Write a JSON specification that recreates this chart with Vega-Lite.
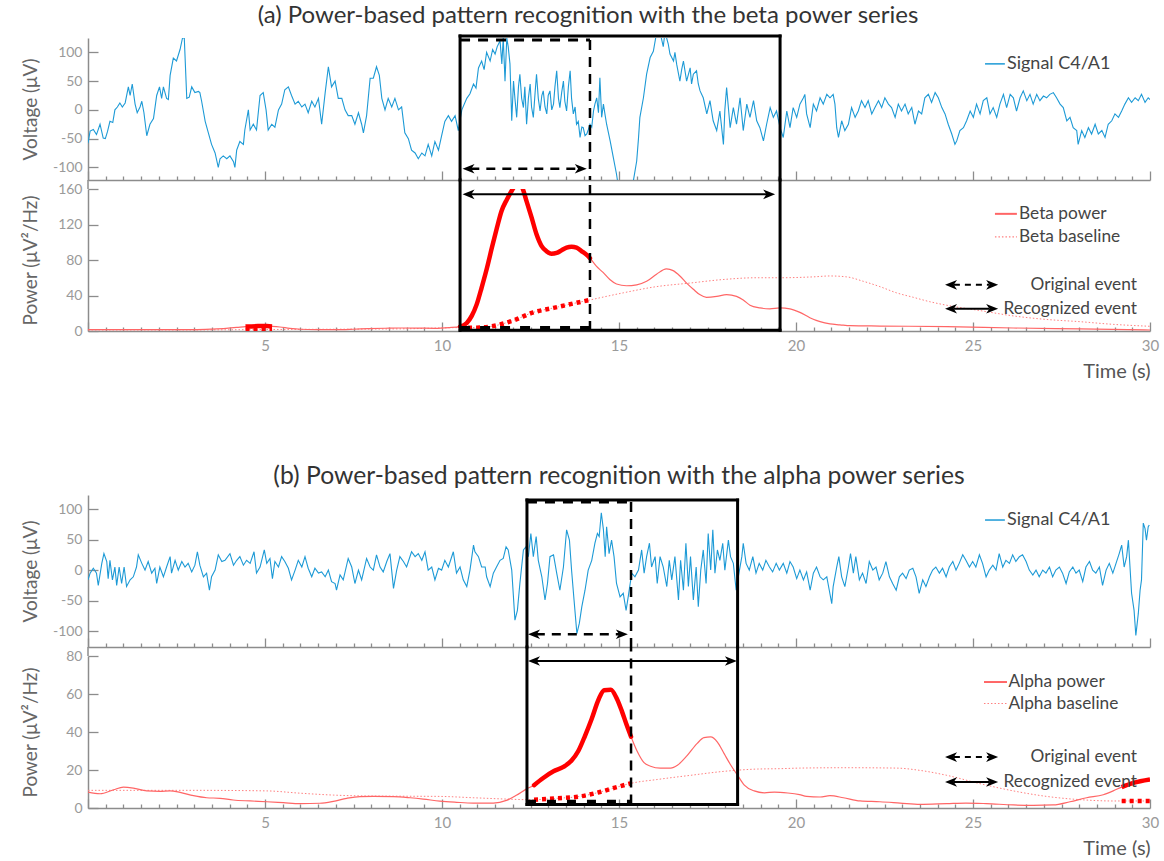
{
  "$schema": "https://vega.github.io/schema/vega-lite/v6.json",
  "background": "white",
  "padding": {"left": 20, "top": 3, "right": 4, "bottom": 4},
  "config": {
    "view": {"stroke": null},
    "font": "Lato",
    "axis": {"grid": false, "domainColor": "#8c8c8c", "domainWidth": 1.5, "tickColor": "#8c8c8c", "tickWidth": 1.3, "labelColor": "#9a9a9a", "labelFontSize": 14, "labelFont": "Lato", "titleFont": "Lato", "titleColor": "#666666", "titleFontWeight": "normal", "titleFontSize": 19},
    "title": {"font": "Lato", "fontSize": 24, "fontWeight": "normal", "color": "#333333"},
    "text": {"font": "Lato"}
  },
  "datasets": {
    "sigA": [{"t":0,"v":-58},{"t":0.06,"v":-37},{"t":0.15,"v":-34},{"t":0.24,"v":-43},{"t":0.34,"v":-25},{"t":0.43,"v":-49},{"t":0.49,"v":-50},{"t":0.55,"v":-38},{"t":0.62,"v":-20},{"t":0.7,"v":-22},{"t":0.76,"v":0},{"t":0.83,"v":5},{"t":0.9,"v":12},{"t":0.97,"v":5},{"t":1.05,"v":12},{"t":1.14,"v":40},{"t":1.19,"v":25},{"t":1.25,"v":45},{"t":1.33,"v":10},{"t":1.39,"v":-5},{"t":1.47,"v":5},{"t":1.52,"v":15},{"t":1.58,"v":-5},{"t":1.66,"v":-45},{"t":1.75,"v":-25},{"t":1.85,"v":-15},{"t":1.94,"v":25},{"t":2.02,"v":40},{"t":2.08,"v":20},{"t":2.13,"v":40},{"t":2.22,"v":20},{"t":2.27,"v":18},{"t":2.32,"v":60},{"t":2.41,"v":90},{"t":2.5,"v":85},{"t":2.6,"v":105},{"t":2.67,"v":125},{"t":2.72,"v":125},{"t":2.79,"v":20},{"t":2.86,"v":22},{"t":2.93,"v":40},{"t":3.02,"v":30},{"t":3.12,"v":32},{"t":3.16,"v":30},{"t":3.21,"v":15},{"t":3.31,"v":-20},{"t":3.4,"v":-40},{"t":3.49,"v":-60},{"t":3.59,"v":-75},{"t":3.68,"v":-100},{"t":3.73,"v":-85},{"t":3.82,"v":-80},{"t":3.92,"v":-85},{"t":4.01,"v":-80},{"t":4.11,"v":-90},{"t":4.15,"v":-100},{"t":4.2,"v":-70},{"t":4.29,"v":-55},{"t":4.39,"v":-60},{"t":4.43,"v":-35},{"t":4.53,"v":0},{"t":4.58,"v":-35},{"t":4.67,"v":-25},{"t":4.76,"v":-35},{"t":4.86,"v":25},{"t":4.95,"v":30},{"t":5.03,"v":0},{"t":5.09,"v":-35},{"t":5.19,"v":-25},{"t":5.28,"v":-30},{"t":5.38,"v":0},{"t":5.47,"v":10},{"t":5.56,"v":35},{"t":5.66,"v":40},{"t":5.75,"v":25},{"t":5.85,"v":10},{"t":5.94,"v":15},{"t":6.04,"v":5},{"t":6.13,"v":10},{"t":6.22,"v":-5},{"t":6.32,"v":15},{"t":6.41,"v":5},{"t":6.51,"v":20},{"t":6.6,"v":-25},{"t":6.7,"v":30},{"t":6.79,"v":75},{"t":6.88,"v":40},{"t":6.98,"v":50},{"t":7.07,"v":20},{"t":7.17,"v":20},{"t":7.26,"v":0},{"t":7.35,"v":-10},{"t":7.45,"v":-10},{"t":7.54,"v":-25},{"t":7.64,"v":-5},{"t":7.73,"v":-25},{"t":7.78,"v":-40},{"t":7.87,"v":-10},{"t":7.97,"v":55},{"t":8.06,"v":55},{"t":8.15,"v":75},{"t":8.23,"v":60},{"t":8.3,"v":20},{"t":8.39,"v":0},{"t":8.48,"v":20},{"t":8.58,"v":5},{"t":8.67,"v":20},{"t":8.77,"v":0},{"t":8.86,"v":5},{"t":8.95,"v":-40},{"t":9.05,"v":-50},{"t":9.14,"v":-70},{"t":9.24,"v":-75},{"t":9.33,"v":-85},{"t":9.43,"v":-75},{"t":9.52,"v":-80},{"t":9.61,"v":-60},{"t":9.71,"v":-80},{"t":9.8,"v":-55},{"t":9.9,"v":-70},{"t":9.99,"v":-45},{"t":10.08,"v":-20},{"t":10.18,"v":-10},{"t":10.27,"v":-20},{"t":10.37,"v":-10},{"t":10.46,"v":-36},{"t":10.56,"v":0},{"t":10.7,"v":20},{"t":10.79,"v":28},{"t":10.89,"v":45},{"t":10.96,"v":38},{"t":11.03,"v":73},{"t":11.12,"v":85},{"t":11.19,"v":70},{"t":11.26,"v":100},{"t":11.36,"v":85},{"t":11.43,"v":105},{"t":11.5,"v":97},{"t":11.56,"v":110},{"t":11.64,"v":120},{"t":11.69,"v":80},{"t":11.73,"v":125},{"t":11.78,"v":50},{"t":11.83,"v":125},{"t":11.87,"v":110},{"t":11.92,"v":80},{"t":11.97,"v":-19},{"t":12.02,"v":50},{"t":12.06,"v":20},{"t":12.11,"v":-13},{"t":12.16,"v":40},{"t":12.2,"v":62},{"t":12.25,"v":20},{"t":12.3,"v":4},{"t":12.34,"v":40},{"t":12.39,"v":-25},{"t":12.44,"v":20},{"t":12.49,"v":45},{"t":12.53,"v":5},{"t":12.58,"v":-13},{"t":12.63,"v":30},{"t":12.67,"v":62},{"t":12.72,"v":20},{"t":12.77,"v":-2},{"t":12.82,"v":25},{"t":12.86,"v":33},{"t":12.91,"v":5},{"t":12.96,"v":-7},{"t":13,"v":25},{"t":13.05,"v":33},{"t":13.1,"v":0},{"t":13.15,"v":10},{"t":13.19,"v":40},{"t":13.24,"v":68},{"t":13.29,"v":20},{"t":13.33,"v":4},{"t":13.38,"v":30},{"t":13.43,"v":50},{"t":13.47,"v":15},{"t":13.52,"v":-2},{"t":13.57,"v":40},{"t":13.62,"v":68},{"t":13.66,"v":20},{"t":13.71,"v":-7},{"t":13.76,"v":5},{"t":13.8,"v":-25},{"t":13.85,"v":-20},{"t":13.9,"v":-48},{"t":13.95,"v":-30},{"t":13.99,"v":-31},{"t":14.04,"v":-45},{"t":14.09,"v":-42},{"t":14.13,"v":-35},{"t":14.18,"v":-25},{"t":14.23,"v":-30},{"t":14.28,"v":-2},{"t":14.32,"v":10},{"t":14.37,"v":21},{"t":14.42,"v":-5},{"t":14.46,"v":56},{"t":14.51,"v":-13},{"t":14.56,"v":10},{"t":14.61,"v":-10},{"t":14.65,"v":-25},{"t":14.75,"v":-54},{"t":14.84,"v":-83},{"t":14.93,"v":-112},{"t":15,"v":-140},{"t":15.36,"v":-140},{"t":15.5,"v":-89},{"t":15.55,"v":-50},{"t":15.59,"v":-13},{"t":15.69,"v":21},{"t":15.78,"v":62},{"t":15.88,"v":91},{"t":15.97,"v":102},{"t":16.05,"v":130},{"t":16.16,"v":135},{"t":16.25,"v":110},{"t":16.3,"v":135},{"t":16.39,"v":115},{"t":16.44,"v":97},{"t":16.54,"v":85},{"t":16.58,"v":100},{"t":16.63,"v":79},{"t":16.72,"v":50},{"t":16.77,"v":70},{"t":16.82,"v":85},{"t":16.91,"v":50},{"t":17.01,"v":73},{"t":17.05,"v":45},{"t":17.1,"v":62},{"t":17.19,"v":68},{"t":17.24,"v":45},{"t":17.29,"v":33},{"t":17.38,"v":21},{"t":17.48,"v":-7},{"t":17.57,"v":16},{"t":17.66,"v":-19},{"t":17.76,"v":-36},{"t":17.85,"v":-2},{"t":17.95,"v":-60},{"t":17.99,"v":0},{"t":18.04,"v":39},{"t":18.14,"v":-31},{"t":18.23,"v":4},{"t":18.32,"v":-25},{"t":18.42,"v":21},{"t":18.51,"v":-36},{"t":18.61,"v":10},{"t":18.7,"v":-13},{"t":18.8,"v":16},{"t":18.89,"v":-19},{"t":18.98,"v":-31},{"t":19.08,"v":-54},{"t":19.17,"v":-25},{"t":19.27,"v":4},{"t":19.36,"v":-13},{"t":19.45,"v":-2},{"t":19.55,"v":-31},{"t":19.64,"v":-48},{"t":19.74,"v":-2},{"t":19.83,"v":-31},{"t":19.92,"v":4},{"t":20.02,"v":-13},{"t":20.11,"v":10},{"t":20.21,"v":21},{"t":20.25,"v":27},{"t":20.3,"v":-7},{"t":20.4,"v":-31},{"t":20.49,"v":10},{"t":20.58,"v":-2},{"t":20.68,"v":21},{"t":20.77,"v":10},{"t":20.87,"v":27},{"t":20.96,"v":21},{"t":21.05,"v":27},{"t":21.1,"v":10},{"t":21.15,"v":-31},{"t":21.2,"v":-48},{"t":21.29,"v":-19},{"t":21.38,"v":-36},{"t":21.48,"v":-25},{"t":21.57,"v":4},{"t":21.67,"v":-13},{"t":21.76,"v":-2},{"t":21.85,"v":16},{"t":21.95,"v":4},{"t":22.04,"v":16},{"t":22.14,"v":-7},{"t":22.23,"v":4},{"t":22.33,"v":16},{"t":22.42,"v":4},{"t":22.51,"v":21},{"t":22.61,"v":10},{"t":22.7,"v":4},{"t":22.8,"v":-13},{"t":22.89,"v":10},{"t":22.98,"v":-2},{"t":23.08,"v":10},{"t":23.17,"v":-7},{"t":23.27,"v":4},{"t":23.36,"v":-25},{"t":23.46,"v":-2},{"t":23.55,"v":-7},{"t":23.64,"v":21},{"t":23.74,"v":27},{"t":23.83,"v":13},{"t":23.93,"v":30},{"t":24.02,"v":21},{"t":24.12,"v":4},{"t":24.21,"v":-7},{"t":24.3,"v":-25},{"t":24.4,"v":-42},{"t":24.49,"v":-60},{"t":24.54,"v":-54},{"t":24.63,"v":-36},{"t":24.73,"v":-31},{"t":24.82,"v":-19},{"t":24.92,"v":-2},{"t":25.01,"v":-13},{"t":25.1,"v":10},{"t":25.2,"v":-7},{"t":25.29,"v":16},{"t":25.39,"v":21},{"t":25.48,"v":-7},{"t":25.57,"v":4},{"t":25.67,"v":-13},{"t":25.76,"v":10},{"t":25.86,"v":27},{"t":25.95,"v":4},{"t":26.05,"v":27},{"t":26.14,"v":21},{"t":26.23,"v":-2},{"t":26.33,"v":21},{"t":26.42,"v":33},{"t":26.52,"v":16},{"t":26.61,"v":27},{"t":26.7,"v":10},{"t":26.8,"v":27},{"t":26.89,"v":16},{"t":26.99,"v":24},{"t":27.08,"v":21},{"t":27.17,"v":27},{"t":27.27,"v":30},{"t":27.36,"v":21},{"t":27.46,"v":10},{"t":27.55,"v":4},{"t":27.65,"v":-19},{"t":27.74,"v":-13},{"t":27.83,"v":-31},{"t":27.93,"v":-36},{"t":27.97,"v":-60},{"t":28.07,"v":-36},{"t":28.16,"v":-48},{"t":28.26,"v":-31},{"t":28.35,"v":-42},{"t":28.45,"v":-25},{"t":28.54,"v":-42},{"t":28.64,"v":-36},{"t":28.73,"v":-48},{"t":28.82,"v":-25},{"t":28.92,"v":-19},{"t":29.01,"v":-7},{"t":29.11,"v":-13},{"t":29.2,"v":-2},{"t":29.29,"v":10},{"t":29.39,"v":21},{"t":29.48,"v":13},{"t":29.58,"v":21},{"t":29.67,"v":16},{"t":29.76,"v":27},{"t":29.86,"v":13},{"t":29.95,"v":21},{"t":30,"v":18}],
    "sigB": [{"t":0,"v":-16},{"t":0.06,"v":-5},{"t":0.15,"v":3},{"t":0.24,"v":-5},{"t":0.29,"v":-25},{"t":0.39,"v":11},{"t":0.45,"v":27},{"t":0.53,"v":14},{"t":0.57,"v":-14},{"t":0.62,"v":16},{"t":0.69,"v":-16},{"t":0.76,"v":5},{"t":0.81,"v":-25},{"t":0.88,"v":5},{"t":0.95,"v":-22},{"t":1.02,"v":5},{"t":1.09,"v":-27},{"t":1.19,"v":-16},{"t":1.28,"v":-11},{"t":1.37,"v":5},{"t":1.42,"v":25},{"t":1.52,"v":11},{"t":1.61,"v":0},{"t":1.7,"v":14},{"t":1.8,"v":-5},{"t":1.89,"v":3},{"t":1.94,"v":-22},{"t":2.03,"v":5},{"t":2.13,"v":-11},{"t":2.22,"v":5},{"t":2.32,"v":22},{"t":2.36,"v":-5},{"t":2.46,"v":16},{"t":2.55,"v":0},{"t":2.65,"v":14},{"t":2.74,"v":5},{"t":2.83,"v":11},{"t":2.93,"v":-3},{"t":3.02,"v":8},{"t":3.09,"v":30},{"t":3.16,"v":8},{"t":3.26,"v":-11},{"t":3.35,"v":-5},{"t":3.43,"v":-33},{"t":3.49,"v":-11},{"t":3.59,"v":0},{"t":3.68,"v":25},{"t":3.78,"v":14},{"t":3.87,"v":16},{"t":4.01,"v":27},{"t":4.11,"v":8},{"t":4.2,"v":16},{"t":4.29,"v":22},{"t":4.39,"v":8},{"t":4.48,"v":16},{"t":4.58,"v":11},{"t":4.69,"v":30},{"t":4.76,"v":-5},{"t":4.86,"v":5},{"t":4.98,"v":33},{"t":5.05,"v":11},{"t":5.14,"v":19},{"t":5.21,"v":-14},{"t":5.28,"v":14},{"t":5.38,"v":5},{"t":5.47,"v":22},{"t":5.56,"v":14},{"t":5.66,"v":3},{"t":5.75,"v":-16},{"t":5.85,"v":0},{"t":5.94,"v":16},{"t":6.04,"v":5},{"t":6.13,"v":22},{"t":6.22,"v":3},{"t":6.32,"v":-11},{"t":6.41,"v":3},{"t":6.51,"v":-5},{"t":6.6,"v":-3},{"t":6.7,"v":-11},{"t":6.79,"v":0},{"t":6.88,"v":-19},{"t":6.98,"v":-22},{"t":7.02,"v":-33},{"t":7.12,"v":-8},{"t":7.21,"v":-16},{"t":7.35,"v":19},{"t":7.45,"v":5},{"t":7.54,"v":-22},{"t":7.64,"v":0},{"t":7.73,"v":-16},{"t":7.87,"v":19},{"t":7.97,"v":5},{"t":8.06,"v":0},{"t":8.15,"v":25},{"t":8.25,"v":5},{"t":8.34,"v":-3},{"t":8.44,"v":14},{"t":8.53,"v":27},{"t":8.63,"v":-30},{"t":8.72,"v":0},{"t":8.81,"v":22},{"t":8.91,"v":14},{"t":9,"v":5},{"t":9.14,"v":30},{"t":9.24,"v":22},{"t":9.33,"v":27},{"t":9.43,"v":16},{"t":9.52,"v":30},{"t":9.61,"v":0},{"t":9.71,"v":5},{"t":9.8,"v":-16},{"t":9.9,"v":3},{"t":9.99,"v":0},{"t":10.08,"v":16},{"t":10.18,"v":5},{"t":10.32,"v":30},{"t":10.41,"v":-5},{"t":10.51,"v":5},{"t":10.6,"v":-16},{"t":10.7,"v":-27},{"t":10.79,"v":0},{"t":10.89,"v":41},{"t":10.93,"v":30},{"t":11.03,"v":22},{"t":11.12,"v":5},{"t":11.22,"v":5},{"t":11.26,"v":-11},{"t":11.36,"v":-27},{"t":11.45,"v":-5},{"t":11.54,"v":5},{"t":11.64,"v":16},{"t":11.73,"v":19},{"t":11.81,"v":38},{"t":11.87,"v":33},{"t":11.97,"v":0},{"t":12.06,"v":-82},{"t":12.13,"v":-66},{"t":12.2,"v":-22},{"t":12.3,"v":33},{"t":12.37,"v":38},{"t":12.44,"v":22},{"t":12.51,"v":60},{"t":12.58,"v":22},{"t":12.66,"v":55},{"t":12.72,"v":16},{"t":12.82,"v":-11},{"t":12.91,"v":-49},{"t":12.98,"v":-22},{"t":13.05,"v":22},{"t":13.15,"v":25},{"t":13.24,"v":-5},{"t":13.33,"v":-33},{"t":13.43,"v":5},{"t":13.52,"v":66},{"t":13.6,"v":49},{"t":13.66,"v":0},{"t":13.73,"v":-49},{"t":13.81,"v":-104},{"t":13.88,"v":-87},{"t":13.95,"v":-60},{"t":14.04,"v":-33},{"t":14.13,"v":0},{"t":14.23,"v":16},{"t":14.32,"v":44},{"t":14.39,"v":60},{"t":14.44,"v":55},{"t":14.5,"v":94},{"t":14.56,"v":66},{"t":14.61,"v":22},{"t":14.65,"v":71},{"t":14.72,"v":27},{"t":14.79,"v":49},{"t":14.86,"v":22},{"t":14.93,"v":-22},{"t":15.03,"v":-44},{"t":15.12,"v":-38},{"t":15.2,"v":-66},{"t":15.26,"v":-44},{"t":15.36,"v":-5},{"t":15.45,"v":-11},{"t":15.55,"v":0},{"t":15.64,"v":33},{"t":15.71,"v":-5},{"t":15.78,"v":22},{"t":15.86,"v":44},{"t":15.92,"v":5},{"t":16.02,"v":22},{"t":16.08,"v":-22},{"t":16.16,"v":22},{"t":16.25,"v":5},{"t":16.35,"v":-27},{"t":16.42,"v":16},{"t":16.49,"v":-16},{"t":16.58,"v":22},{"t":16.68,"v":-49},{"t":16.74,"v":16},{"t":16.82,"v":-33},{"t":16.89,"v":44},{"t":16.96,"v":-27},{"t":17.02,"v":22},{"t":17.1,"v":-49},{"t":17.18,"v":5},{"t":17.24,"v":-60},{"t":17.31,"v":0},{"t":17.38,"v":33},{"t":17.46,"v":-22},{"t":17.52,"v":60},{"t":17.59,"v":0},{"t":17.65,"v":66},{"t":17.71,"v":-5},{"t":17.78,"v":33},{"t":17.85,"v":16},{"t":17.93,"v":44},{"t":17.99,"v":0},{"t":18.09,"v":49},{"t":18.15,"v":22},{"t":18.23,"v":11},{"t":18.31,"v":-33},{"t":18.37,"v":-11},{"t":18.47,"v":22},{"t":18.51,"v":44},{"t":18.59,"v":11},{"t":18.68,"v":0},{"t":18.78,"v":22},{"t":18.87,"v":-5},{"t":18.96,"v":11},{"t":19.06,"v":0},{"t":19.15,"v":16},{"t":19.25,"v":5},{"t":19.34,"v":-3},{"t":19.44,"v":11},{"t":19.53,"v":0},{"t":19.64,"v":11},{"t":19.74,"v":-5},{"t":19.83,"v":14},{"t":19.92,"v":5},{"t":20.02,"v":-14},{"t":20.11,"v":0},{"t":20.21,"v":-16},{"t":20.3,"v":-3},{"t":20.4,"v":-33},{"t":20.49,"v":-5},{"t":20.58,"v":5},{"t":20.68,"v":-11},{"t":20.77,"v":-16},{"t":20.87,"v":-11},{"t":20.94,"v":-33},{"t":21.01,"v":-55},{"t":21.05,"v":-27},{"t":21.15,"v":5},{"t":21.21,"v":22},{"t":21.29,"v":-11},{"t":21.38,"v":-27},{"t":21.48,"v":5},{"t":21.54,"v":27},{"t":21.62,"v":-5},{"t":21.69,"v":22},{"t":21.79,"v":-16},{"t":21.88,"v":-5},{"t":21.98,"v":-22},{"t":22.07,"v":14},{"t":22.17,"v":0},{"t":22.26,"v":5},{"t":22.35,"v":-16},{"t":22.45,"v":-5},{"t":22.54,"v":14},{"t":22.64,"v":-11},{"t":22.73,"v":-22},{"t":22.83,"v":-33},{"t":22.92,"v":-11},{"t":23.01,"v":-5},{"t":23.11,"v":-14},{"t":23.2,"v":0},{"t":23.3,"v":3},{"t":23.39,"v":-11},{"t":23.48,"v":-38},{"t":23.58,"v":-16},{"t":23.67,"v":-27},{"t":23.77,"v":-11},{"t":23.86,"v":0},{"t":23.95,"v":5},{"t":24.05,"v":-5},{"t":24.14,"v":3},{"t":24.24,"v":-11},{"t":24.33,"v":5},{"t":24.43,"v":14},{"t":24.52,"v":0},{"t":24.61,"v":11},{"t":24.71,"v":25},{"t":24.8,"v":16},{"t":24.9,"v":5},{"t":24.99,"v":14},{"t":25.08,"v":5},{"t":25.18,"v":25},{"t":25.27,"v":11},{"t":25.37,"v":-11},{"t":25.46,"v":0},{"t":25.56,"v":8},{"t":25.65,"v":0},{"t":25.74,"v":27},{"t":25.84,"v":5},{"t":25.93,"v":16},{"t":26.03,"v":11},{"t":26.12,"v":25},{"t":26.21,"v":14},{"t":26.31,"v":22},{"t":26.4,"v":25},{"t":26.5,"v":14},{"t":26.59,"v":0},{"t":26.69,"v":-8},{"t":26.78,"v":0},{"t":26.87,"v":-11},{"t":26.97,"v":0},{"t":27.06,"v":-5},{"t":27.16,"v":5},{"t":27.25,"v":-11},{"t":27.34,"v":0},{"t":27.44,"v":5},{"t":27.53,"v":-5},{"t":27.63,"v":-22},{"t":27.72,"v":-3},{"t":27.82,"v":5},{"t":27.91,"v":-5},{"t":28,"v":0},{"t":28.1,"v":-19},{"t":28.19,"v":5},{"t":28.29,"v":14},{"t":28.38,"v":0},{"t":28.47,"v":-5},{"t":28.57,"v":5},{"t":28.66,"v":-25},{"t":28.76,"v":0},{"t":28.85,"v":11},{"t":28.95,"v":-5},{"t":29.04,"v":11},{"t":29.13,"v":27},{"t":29.2,"v":41},{"t":29.27,"v":5},{"t":29.34,"v":22},{"t":29.39,"v":49},{"t":29.44,"v":0},{"t":29.48,"v":-38},{"t":29.55,"v":-66},{"t":29.6,"v":-107},{"t":29.67,"v":-71},{"t":29.72,"v":-33},{"t":29.76,"v":-16},{"t":29.81,"v":77},{"t":29.86,"v":68},{"t":29.9,"v":49},{"t":29.95,"v":71},{"t":29.98,"v":74}],
    "betaP": [{"t":0,"v":1.5},{"t":1,"v":1.5},{"t":2,"v":1.5},{"t":3,"v":1.6},{"t":3.5,"v":2.2},{"t":3.9,"v":3},{"t":4.2,"v":4},{"t":4.45,"v":5},{"t":4.8,"v":5.5},{"t":5.05,"v":5.5},{"t":5.2,"v":5.2},{"t":5.42,"v":4.5},{"t":5.7,"v":3},{"t":6,"v":2},{"t":6.5,"v":1.6},{"t":7,"v":1.5},{"t":7.5,"v":2},{"t":7.9,"v":2.6},{"t":8.4,"v":3.1},{"t":8.8,"v":3.4},{"t":9.3,"v":3.3},{"t":9.8,"v":3},{"t":10.2,"v":3.8},{"t":10.51,"v":5},{"t":10.7,"v":9},{"t":10.84,"v":17},{"t":10.98,"v":30},{"t":11.12,"v":49},{"t":11.27,"v":71},{"t":11.41,"v":94},{"t":11.55,"v":116},{"t":11.68,"v":135},{"t":11.83,"v":148},{"t":11.97,"v":158},{"t":12.05,"v":163},{"t":12.15,"v":166},{"t":12.25,"v":163},{"t":12.39,"v":146},{"t":12.53,"v":128},{"t":12.67,"v":109},{"t":12.81,"v":96},{"t":12.95,"v":90},{"t":13.09,"v":87},{"t":13.24,"v":88},{"t":13.38,"v":91},{"t":13.52,"v":94},{"t":13.66,"v":95},{"t":13.8,"v":94},{"t":13.94,"v":90},{"t":14.08,"v":86},{"t":14.18,"v":82},{"t":14.36,"v":73},{"t":14.55,"v":66},{"t":14.74,"v":58},{"t":14.93,"v":53},{"t":15.21,"v":51},{"t":15.5,"v":52},{"t":15.78,"v":56},{"t":16.06,"v":64},{"t":16.34,"v":70},{"t":16.53,"v":68},{"t":16.72,"v":62},{"t":16.91,"v":54},{"t":17.1,"v":47},{"t":17.28,"v":41},{"t":17.47,"v":38},{"t":17.76,"v":39},{"t":18.04,"v":41},{"t":18.32,"v":39},{"t":18.51,"v":35},{"t":18.7,"v":29},{"t":18.98,"v":26},{"t":19.26,"v":25},{"t":19.55,"v":26},{"t":19.83,"v":25},{"t":20.11,"v":21},{"t":20.39,"v":15},{"t":20.68,"v":10.5},{"t":20.96,"v":8},{"t":21.24,"v":7},{"t":21.53,"v":6},{"t":22.37,"v":5.6},{"t":24.26,"v":5},{"t":26.14,"v":3.4},{"t":28.02,"v":2.3},{"t":30,"v":1.1}],
    "betaB": [{"t":0,"v":1.2},{"t":3,"v":1.2},{"t":4.45,"v":1.5},{"t":5.2,"v":1.7},{"t":7,"v":2},{"t":9,"v":2.5},{"t":10.51,"v":3.8},{"t":10.98,"v":3.8},{"t":11.45,"v":5.6},{"t":12.02,"v":12},{"t":12.58,"v":21},{"t":13.15,"v":26},{"t":13.71,"v":31},{"t":14.18,"v":35},{"t":15.12,"v":43},{"t":16.06,"v":50},{"t":17,"v":54},{"t":17.94,"v":58},{"t":18.88,"v":60},{"t":19.55,"v":60},{"t":20.49,"v":61},{"t":20.96,"v":62},{"t":21.43,"v":61},{"t":21.9,"v":56},{"t":22.37,"v":50},{"t":22.84,"v":43},{"t":23.31,"v":38},{"t":23.78,"v":33},{"t":24.26,"v":29},{"t":25.2,"v":23},{"t":26.14,"v":17},{"t":27.08,"v":13},{"t":28.02,"v":10.5},{"t":28.96,"v":7.5},{"t":30,"v":5.3}],
    "alphaP": [{"t":0,"v":8.4},{"t":0.34,"v":7.5},{"t":0.72,"v":9.6},{"t":1,"v":11},{"t":1.28,"v":10.5},{"t":1.66,"v":9},{"t":2.03,"v":8.8},{"t":2.32,"v":9},{"t":2.6,"v":8.2},{"t":2.98,"v":6.5},{"t":3.35,"v":5.4},{"t":3.73,"v":5.1},{"t":4.1,"v":4.2},{"t":4.58,"v":3.7},{"t":5.05,"v":3.3},{"t":5.52,"v":2.8},{"t":5.99,"v":2.3},{"t":6.55,"v":2.5},{"t":6.93,"v":3.5},{"t":7.31,"v":5.1},{"t":7.68,"v":6},{"t":8.06,"v":6.1},{"t":8.63,"v":6},{"t":9.1,"v":5.4},{"t":9.47,"v":4.7},{"t":9.94,"v":3.6},{"t":10.41,"v":3},{"t":10.88,"v":2.6},{"t":11.45,"v":2.6},{"t":11.82,"v":4},{"t":12.1,"v":6.7},{"t":12.4,"v":10.2},{"t":12.6,"v":12},{"t":12.86,"v":15.8},{"t":13.15,"v":19.3},{"t":13.43,"v":21.6},{"t":13.66,"v":25},{"t":13.85,"v":30},{"t":14.04,"v":38},{"t":14.23,"v":47},{"t":14.42,"v":57},{"t":14.58,"v":62},{"t":14.77,"v":62.3},{"t":14.94,"v":57.5},{"t":15.08,"v":51},{"t":15.22,"v":43.5},{"t":15.34,"v":37.5},{"t":15.51,"v":30},{"t":15.7,"v":24},{"t":15.89,"v":22},{"t":16.17,"v":21},{"t":16.46,"v":21},{"t":16.65,"v":22.5},{"t":16.93,"v":27.7},{"t":17.21,"v":34},{"t":17.4,"v":37},{"t":17.59,"v":37.4},{"t":17.78,"v":34.7},{"t":17.97,"v":28.6},{"t":18.16,"v":22.5},{"t":18.35,"v":17.2},{"t":18.54,"v":12},{"t":18.82,"v":9},{"t":19.11,"v":8},{"t":19.39,"v":8.4},{"t":19.77,"v":7.9},{"t":20.1,"v":7},{"t":20.3,"v":6.1},{"t":20.68,"v":5.8},{"t":20.96,"v":6.5},{"t":21.34,"v":5.4},{"t":21.81,"v":3.7},{"t":22.37,"v":3.3},{"t":22.94,"v":2.6},{"t":23.5,"v":1.9},{"t":24.26,"v":2.3},{"t":24.8,"v":2.6},{"t":25.38,"v":2.3},{"t":26.14,"v":1.6},{"t":26.7,"v":1.4},{"t":27.27,"v":1.6},{"t":27.74,"v":3.3},{"t":28.21,"v":5.4},{"t":28.68,"v":7},{"t":28.96,"v":9},{"t":29.2,"v":11},{"t":29.53,"v":13.2},{"t":30,"v":15}],
    "alphaB": [{"t":0,"v":9.3},{"t":3,"v":9.3},{"t":5.05,"v":9},{"t":5.99,"v":7.8},{"t":6.93,"v":6.8},{"t":8,"v":6.3},{"t":9,"v":6.2},{"t":9.94,"v":6.1},{"t":10.88,"v":5.4},{"t":11.82,"v":4.7},{"t":12.4,"v":4.4},{"t":12.6,"v":4.4},{"t":13.24,"v":5.1},{"t":13.9,"v":6.1},{"t":14.46,"v":8.4},{"t":14.94,"v":11},{"t":15.34,"v":13},{"t":16.08,"v":15},{"t":17.02,"v":17.2},{"t":17.97,"v":19.3},{"t":18.91,"v":20.5},{"t":19.55,"v":20.7},{"t":20.1,"v":21},{"t":21.43,"v":21.2},{"t":22.84,"v":21},{"t":23.5,"v":19.8},{"t":24.26,"v":17.2},{"t":25.2,"v":12.8},{"t":26.14,"v":9},{"t":27.08,"v":6.1},{"t":28.02,"v":4.4},{"t":28.96,"v":3.7},{"t":29.2,"v":3.7},{"t":30,"v":3.7}]
  },
  "spacing": 83,
  "vconcat": [
    {
      "spacing": 9,
      "bounds": "flush",
      "vconcat": [
        {
          "title": {"text": "(a) Power-based pattern recognition with the beta power series", "anchor": "middle", "frame": "group", "dx": -31, "offset": 6},
          "width": 1062, "height": 142,
          "encoding": {
            "x": {"field": "t", "type": "quantitative", "scale": {"domain": [0, 30]}, "axis": {"values": [0,0.5,1,1.5,2,2.5,3,3.5,4,4.5,5,5.5,6,6.5,7,7.5,8,8.5,9,9.5,10,10.5,11,11.5,12,12.5,13,13.5,14,14.5,15,15.5,16,16.5,17,17.5,18,18.5,19,19.5,20,20.5,21,21.5,22,22.5,23,23.5,24,24.5,25,25.5,26,26.5,27,27.5,28,28.5,29,29.5,30], "tickSize": {"condition": {"test": "datum.value % 5 === 0", "value": -9}, "value": -4}, "labels": false, "title": null}},
            "y": {"field": "v", "type": "quantitative", "scale": {"domain": [-122, 125]}, "axis": {"values": [-100, -50, 0, 50, 100], "labelExpr": "replace(datum.label, '−', '-')", "tickSize": -10, "labelPadding": 16, "title": "Voltage (μV)", "titleX": -58, "titleY": 71, "titleBaseline": "middle"}}
          },
          "layer": [
            {"data": {"name": "sigA"}, "mark": {"type": "line", "color": "#1d9ad6", "strokeWidth": 1.1, "clip": true}},
            {"data": {"values": [{"t": 25.34, "t2": 25.9, "v": 80}]}, "mark": {"type": "rule", "color": "#1d9ad6", "strokeWidth": 1.5}, "encoding": {"x2": {"field": "t2"}}},
            {"data": {"values": [{"t": 25.96, "v": 80, "label": "Signal C4/A1"}]}, "mark": {"type": "text", "align": "left", "baseline": "middle", "fontSize": 18, "color": "#444444"}, "encoding": {"text": {"field": "label"}}},
            {"data": {"values": [{"t": 10.51, "v": 128.5, "v2": -122}, {"t": 19.55, "v": 128.5, "v2": -122}]}, "mark": {"type": "rule", "color": "black", "strokeWidth": 3, "strokeCap": "square"}, "encoding": {"y2": {"field": "v2"}}},
            {"data": {"values": [{"t": 10.51, "t2": 19.55, "v": 128.5}]}, "mark": {"type": "rule", "color": "black", "strokeWidth": 3, "strokeCap": "square"}, "encoding": {"x2": {"field": "t2"}}},
            {"data": {"values": [{"t": 14.18, "v": 121.5, "v2": -122}]}, "mark": {"type": "rule", "color": "black", "strokeWidth": 2.5, "strokeDash": [10, 7]}, "encoding": {"y2": {"field": "v2"}}},
            {"data": {"values": [{"t": 10.51, "t2": 14.18, "v": 121.5}]}, "mark": {"type": "rule", "color": "black", "strokeWidth": 3, "strokeDash": [10, 8]}, "encoding": {"x2": {"field": "t2"}}},
            {"data": {"values": [{"t": 10.8, "t2": 13.87, "v": -102.5}]}, "mark": {"type": "rule", "color": "black", "strokeWidth": 2.5, "strokeDash": [9, 7]}, "encoding": {"x2": {"field": "t2"}}},
            {"data": {"values": [{"t": 10.58, "v": -102.5, "dir": "l"}, {"t": 14.09, "v": -102.5, "dir": "r"}]}, "mark": {"type": "point", "filled": true, "color": "black", "opacity": 1, "size": 144}, "encoding": {"shape": {"field": "dir", "type": "nominal", "scale": {"domain": ["l", "r"], "range": ["M0,0L2,-0.8L1.45,0L2,0.8Z", "M0,0L-2,-0.8L-1.45,0L-2,0.8Z"]}, "legend": null}}}
          ]
        },
        {
          "width": 1062, "height": 142,
          "encoding": {
            "x": {"field": "t", "type": "quantitative", "scale": {"domain": [0, 30]}, "axis": {"values": [0,0.5,1,1.5,2,2.5,3,3.5,4,4.5,5,5.5,6,6.5,7,7.5,8,8.5,9,9.5,10,10.5,11,11.5,12,12.5,13,13.5,14,14.5,15,15.5,16,16.5,17,17.5,18,18.5,19,19.5,20,20.5,21,21.5,22,22.5,23,23.5,24,24.5,25,25.5,26,26.5,27,27.5,28,28.5,29,29.5,30], "tickSize": {"condition": {"test": "datum.value % 5 === 0", "value": -9}, "value": -4}, "labelExpr": "datum.value % 5 === 0 && datum.value > 0 ? format(datum.value, 'd') : ''", "labelOverlap": false, "labelFlush": false, "labelPadding": 16, "labelFontSize": 15, "title": "Time (s)", "titleAnchor": "end", "titleFontSize": 20, "titleColor": "#555555", "titlePadding": 3}},
            "y": {"field": "v", "type": "quantitative", "scale": {"domain": [0, 160]}, "axis": {"values": [0, 40, 80, 120, 160], "tickSize": -10, "labelPadding": 16, "title": "Power (μV²/Hz)", "titleX": -58, "titleY": 71, "titleBaseline": "middle"}}
          },
          "layer": [
            {"data": {"values": [{"t": 0, "v": 160, "v2": 170.2}]}, "mark": {"type": "rule", "color": "#8c8c8c", "strokeWidth": 1.5}, "encoding": {"y2": {"field": "v2"}}},
            {"data": {"name": "betaB"}, "mark": {"type": "line", "color": "#ff8080", "strokeWidth": 1, "strokeDash": [1.5, 2], "interpolate": "monotone", "clip": true}},
            {"data": {"name": "betaP"}, "mark": {"type": "line", "color": "#ff6666", "strokeWidth": 1.2, "interpolate": "monotone", "clip": true}},
            {"data": {"name": "betaP"}, "transform": [{"filter": "datum.t >= 10.5 && datum.t <= 14.19"}], "mark": {"type": "line", "color": "#ff0000", "strokeWidth": 4.5, "strokeCap": "round", "interpolate": "monotone", "clip": true}},
            {"data": {"name": "betaP"}, "transform": [{"filter": "datum.t >= 4.44 && datum.t <= 5.21"}], "mark": {"type": "line", "color": "#ff0000", "strokeWidth": 4.5, "interpolate": "monotone", "clip": true}},
            {"data": {"name": "betaB"}, "transform": [{"filter": "datum.t >= 10.5 && datum.t <= 14.19"}], "mark": {"type": "line", "color": "#ff0000", "strokeWidth": 4.5, "strokeDash": [4, 4], "interpolate": "monotone", "clip": true}},
            {"data": {"name": "betaB"}, "transform": [{"filter": "datum.t >= 4.44 && datum.t <= 5.21"}], "mark": {"type": "line", "color": "#ff0000", "strokeWidth": 4.5, "strokeDash": [4, 4], "interpolate": "monotone", "clip": true}},
            {"data": {"values": [{"t": 10.51, "v": 0.8, "v2": 170.2}, {"t": 19.55, "v": 0.8, "v2": 170.2}]}, "mark": {"type": "rule", "color": "black", "strokeWidth": 3, "strokeCap": "square"}, "encoding": {"y2": {"field": "v2"}}},
            {"data": {"values": [{"t": 10.51, "t2": 19.55, "v": 0.8}]}, "mark": {"type": "rule", "color": "black", "strokeWidth": 3, "strokeCap": "square"}, "encoding": {"x2": {"field": "t2"}}},
            {"data": {"values": [{"t": 14.18, "v": 0, "v2": 170.2}]}, "mark": {"type": "rule", "color": "black", "strokeWidth": 2.5, "strokeDash": [10, 7]}, "encoding": {"y2": {"field": "v2"}}},
            {"data": {"values": [{"t": 10.51, "t2": 14.18, "v": 3.5}]}, "mark": {"type": "rule", "color": "black", "strokeWidth": 4, "strokeDash": [10, 10]}, "encoding": {"x2": {"field": "t2"}}},
            {"data": {"values": [{"t": 10.8, "t2": 19.2, "v": 154}, {"t": 24.46, "t2": 25.46, "v": 25}]}, "mark": {"type": "rule", "color": "black", "strokeWidth": 2}, "encoding": {"x2": {"field": "t2"}}},
            {"data": {"values": [{"t": 24.46, "t2": 25.46, "v": 52}]}, "mark": {"type": "rule", "color": "black", "strokeWidth": 2, "strokeDash": [6, 5]}, "encoding": {"x2": {"field": "t2"}}},
            {"data": {"values": [{"t": 10.58, "v": 154, "dir": "l"}, {"t": 19.41, "v": 154, "dir": "r"}, {"t": 24.21, "v": 52, "dir": "l"}, {"t": 25.71, "v": 52, "dir": "r"}, {"t": 24.21, "v": 25, "dir": "l"}, {"t": 25.71, "v": 25, "dir": "r"}]}, "mark": {"type": "point", "filled": true, "color": "black", "opacity": 1, "size": 144}, "encoding": {"shape": {"field": "dir", "type": "nominal", "scale": {"domain": ["l", "r"], "range": ["M0,0L2,-0.8L1.45,0L2,0.8Z", "M0,0L-2,-0.8L-1.45,0L-2,0.8Z"]}, "legend": null}}},
            {"data": {"values": [{"t": 25.62, "t2": 26.24, "v": 132}]}, "mark": {"type": "rule", "color": "#ff6666", "strokeWidth": 2}, "encoding": {"x2": {"field": "t2"}}},
            {"data": {"values": [{"t": 25.62, "t2": 26.24, "v": 106}]}, "mark": {"type": "rule", "color": "#ff8080", "strokeWidth": 1.2, "strokeDash": [1.5, 2]}, "encoding": {"x2": {"field": "t2"}}},
            {"data": {"values": [{"t": 26.3, "v": 132, "label": "Beta power"}, {"t": 26.3, "v": 106, "label": "Beta baseline"}]}, "mark": {"type": "text", "align": "left", "baseline": "middle", "fontSize": 17.3, "color": "#444444"}, "encoding": {"text": {"field": "label"}}},
            {"data": {"values": [{"t": 29.63, "v": 52, "label": "Original event"}, {"t": 29.63, "v": 25, "label": "Recognized event"}]}, "mark": {"type": "text", "align": "right", "baseline": "middle", "fontSize": 17.3, "color": "#444444"}, "encoding": {"text": {"field": "label"}}}
          ]
        }
      ]
    },
    {
      "spacing": 9,
      "bounds": "flush",
      "vconcat": [
        {
          "title": {"text": "(b) Power-based pattern recognition with the alpha power series", "anchor": "middle", "frame": "group", "offset": 6, "fontSize": 24.7},
          "width": 1062, "height": 152,
          "encoding": {
            "x": {"field": "t", "type": "quantitative", "scale": {"domain": [0, 30]}, "axis": {"values": [0,0.5,1,1.5,2,2.5,3,3.5,4,4.5,5,5.5,6,6.5,7,7.5,8,8.5,9,9.5,10,10.5,11,11.5,12,12.5,13,13.5,14,14.5,15,15.5,16,16.5,17,17.5,18,18.5,19,19.5,20,20.5,21,21.5,22,22.5,23,23.5,24,24.5,25,25.5,26,26.5,27,27.5,28,28.5,29,29.5,30], "tickSize": {"condition": {"test": "datum.value % 5 === 0", "value": -9}, "value": -4}, "labels": false, "title": null}},
            "y": {"field": "v", "type": "quantitative", "scale": {"domain": [-126, 123]}, "axis": {"values": [-100, -50, 0, 50, 100], "labelExpr": "replace(datum.label, '−', '-')", "tickSize": -10, "labelPadding": 16, "title": "Voltage (μV)", "titleX": -58, "titleY": 76, "titleBaseline": "middle"}}
          },
          "layer": [
            {"data": {"name": "sigB"}, "mark": {"type": "line", "color": "#1d9ad6", "strokeWidth": 1.1, "clip": true}},
            {"data": {"values": [{"t": 25.34, "t2": 25.9, "v": 82}]}, "mark": {"type": "rule", "color": "#1d9ad6", "strokeWidth": 1.5}, "encoding": {"x2": {"field": "t2"}}},
            {"data": {"values": [{"t": 25.96, "v": 82, "label": "Signal C4/A1"}]}, "mark": {"type": "text", "align": "left", "baseline": "middle", "fontSize": 18, "color": "#444444"}, "encoding": {"text": {"field": "label"}}},
            {"data": {"values": [{"t": 12.4, "v": 114.8, "v2": -126}, {"t": 18.35, "v": 114.8, "v2": -126}]}, "mark": {"type": "rule", "color": "black", "strokeWidth": 3, "strokeCap": "square"}, "encoding": {"y2": {"field": "v2"}}},
            {"data": {"values": [{"t": 12.4, "t2": 18.35, "v": 114.8}]}, "mark": {"type": "rule", "color": "black", "strokeWidth": 3, "strokeCap": "square"}, "encoding": {"x2": {"field": "t2"}}},
            {"data": {"values": [{"t": 15.34, "v": 111.5, "v2": -126}]}, "mark": {"type": "rule", "color": "black", "strokeWidth": 2.5, "strokeDash": [10, 7]}, "encoding": {"y2": {"field": "v2"}}},
            {"data": {"values": [{"t": 12.4, "t2": 15.34, "v": 111.5}]}, "mark": {"type": "rule", "color": "black", "strokeWidth": 3, "strokeDash": [10, 8]}, "encoding": {"x2": {"field": "t2"}}},
            {"data": {"values": [{"t": 12.65, "t2": 15.03, "v": -105}]}, "mark": {"type": "rule", "color": "black", "strokeWidth": 2.5, "strokeDash": [9, 7]}, "encoding": {"x2": {"field": "t2"}}},
            {"data": {"values": [{"t": 12.43, "v": -105, "dir": "l"}, {"t": 15.25, "v": -105, "dir": "r"}]}, "mark": {"type": "point", "filled": true, "color": "black", "opacity": 1, "size": 144}, "encoding": {"shape": {"field": "dir", "type": "nominal", "scale": {"domain": ["l", "r"], "range": ["M0,0L2,-0.8L1.45,0L2,0.8Z", "M0,0L-2,-0.8L-1.45,0L-2,0.8Z"]}, "legend": null}}}
          ]
        },
        {
          "width": 1062, "height": 152,
          "encoding": {
            "x": {"field": "t", "type": "quantitative", "scale": {"domain": [0, 30]}, "axis": {"values": [0,0.5,1,1.5,2,2.5,3,3.5,4,4.5,5,5.5,6,6.5,7,7.5,8,8.5,9,9.5,10,10.5,11,11.5,12,12.5,13,13.5,14,14.5,15,15.5,16,16.5,17,17.5,18,18.5,19,19.5,20,20.5,21,21.5,22,22.5,23,23.5,24,24.5,25,25.5,26,26.5,27,27.5,28,28.5,29,29.5,30], "tickSize": {"condition": {"test": "datum.value % 5 === 0", "value": -9}, "value": -4}, "labelExpr": "datum.value % 5 === 0 && datum.value > 0 ? format(datum.value, 'd') : ''", "labelOverlap": false, "labelFlush": false, "labelPadding": 16, "labelFontSize": 15, "title": "Time (s)", "titleAnchor": "end", "titleFontSize": 20, "titleColor": "#555555", "titlePadding": 3}},
            "y": {"field": "v", "type": "quantitative", "scale": {"domain": [0, 80]}, "axis": {"values": [0, 20, 40, 60, 80], "tickSize": -10, "labelPadding": 16, "title": "Power (μV²/Hz)", "titleX": -58, "titleY": 76, "titleBaseline": "middle"}}
          },
          "layer": [
            {"data": {"values": [{"t": 0, "v": 80, "v2": 84.74}]}, "mark": {"type": "rule", "color": "#8c8c8c", "strokeWidth": 1.5}, "encoding": {"y2": {"field": "v2"}}},
            {"data": {"name": "alphaB"}, "mark": {"type": "line", "color": "#ff8080", "strokeWidth": 1, "strokeDash": [1.5, 2], "interpolate": "monotone", "clip": true}},
            {"data": {"name": "alphaP"}, "mark": {"type": "line", "color": "#ff6666", "strokeWidth": 1.2, "interpolate": "monotone", "clip": true}},
            {"data": {"name": "alphaP"}, "transform": [{"filter": "datum.t >= 12.59 && datum.t <= 15.35"}], "mark": {"type": "line", "color": "#ff0000", "strokeWidth": 4.5, "strokeCap": "round", "interpolate": "monotone", "clip": true}},
            {"data": {"name": "alphaP"}, "transform": [{"filter": "datum.t >= 29.19"}], "mark": {"type": "line", "color": "#ff0000", "strokeWidth": 4.5, "interpolate": "monotone", "clip": true}},
            {"data": {"name": "alphaB"}, "transform": [{"filter": "datum.t >= 12.59 && datum.t <= 15.35"}], "mark": {"type": "line", "color": "#ff0000", "strokeWidth": 4.5, "strokeDash": [4, 4], "interpolate": "monotone", "clip": true}},
            {"data": {"name": "alphaB"}, "transform": [{"filter": "datum.t >= 29.19"}], "mark": {"type": "line", "color": "#ff0000", "strokeWidth": 4.5, "strokeDash": [4, 4], "interpolate": "monotone", "clip": true}},
            {"data": {"values": [{"t": 12.4, "v": 1.9, "v2": 84.74}, {"t": 18.35, "v": 1.9, "v2": 84.74}]}, "mark": {"type": "rule", "color": "black", "strokeWidth": 3, "strokeCap": "square"}, "encoding": {"y2": {"field": "v2"}}},
            {"data": {"values": [{"t": 12.4, "t2": 18.35, "v": 1.9}]}, "mark": {"type": "rule", "color": "black", "strokeWidth": 3, "strokeCap": "square"}, "encoding": {"x2": {"field": "t2"}}},
            {"data": {"values": [{"t": 15.34, "v": 1.9, "v2": 84.74}]}, "mark": {"type": "rule", "color": "black", "strokeWidth": 2.5, "strokeDash": [10, 7]}, "encoding": {"y2": {"field": "v2"}}},
            {"data": {"values": [{"t": 12.4, "t2": 15.34, "v": 3.3}]}, "mark": {"type": "rule", "color": "black", "strokeWidth": 4, "strokeDash": [9, 11]}, "encoding": {"x2": {"field": "t2"}}},
            {"data": {"values": [{"t": 12.65, "t2": 18.1, "v": 77.4}, {"t": 24.46, "t2": 25.46, "v": 13.7}]}, "mark": {"type": "rule", "color": "black", "strokeWidth": 2}, "encoding": {"x2": {"field": "t2"}}},
            {"data": {"values": [{"t": 24.46, "t2": 25.46, "v": 26.8}]}, "mark": {"type": "rule", "color": "black", "strokeWidth": 2, "strokeDash": [6, 5]}, "encoding": {"x2": {"field": "t2"}}},
            {"data": {"values": [{"t": 12.43, "v": 77.4, "dir": "l"}, {"t": 18.33, "v": 77.4, "dir": "r"}, {"t": 24.21, "v": 26.8, "dir": "l"}, {"t": 25.71, "v": 26.8, "dir": "r"}, {"t": 24.21, "v": 13.7, "dir": "l"}, {"t": 25.71, "v": 13.7, "dir": "r"}]}, "mark": {"type": "point", "filled": true, "color": "black", "opacity": 1, "size": 144}, "encoding": {"shape": {"field": "dir", "type": "nominal", "scale": {"domain": ["l", "r"], "range": ["M0,0L2,-0.8L1.45,0L2,0.8Z", "M0,0L-2,-0.8L-1.45,0L-2,0.8Z"]}, "legend": null}}},
            {"data": {"values": [{"t": 25.31, "t2": 25.96, "v": 66.3}]}, "mark": {"type": "rule", "color": "#ff6666", "strokeWidth": 2}, "encoding": {"x2": {"field": "t2"}}},
            {"data": {"values": [{"t": 25.31, "t2": 25.96, "v": 55}]}, "mark": {"type": "rule", "color": "#ff8080", "strokeWidth": 1.2, "strokeDash": [1.5, 2]}, "encoding": {"x2": {"field": "t2"}}},
            {"data": {"values": [{"t": 26.0, "v": 66.3, "label": "Alpha power"}, {"t": 26.0, "v": 55, "label": "Alpha baseline"}]}, "mark": {"type": "text", "align": "left", "baseline": "middle", "fontSize": 17.3, "color": "#444444"}, "encoding": {"text": {"field": "label"}}},
            {"data": {"values": [{"t": 29.63, "v": 26.8, "label": "Original event"}, {"t": 29.63, "v": 13.7, "label": "Recognized event"}]}, "mark": {"type": "text", "align": "right", "baseline": "middle", "fontSize": 17.3, "color": "#444444"}, "encoding": {"text": {"field": "label"}}}
          ]
        }
      ]
    }
  ]
}
